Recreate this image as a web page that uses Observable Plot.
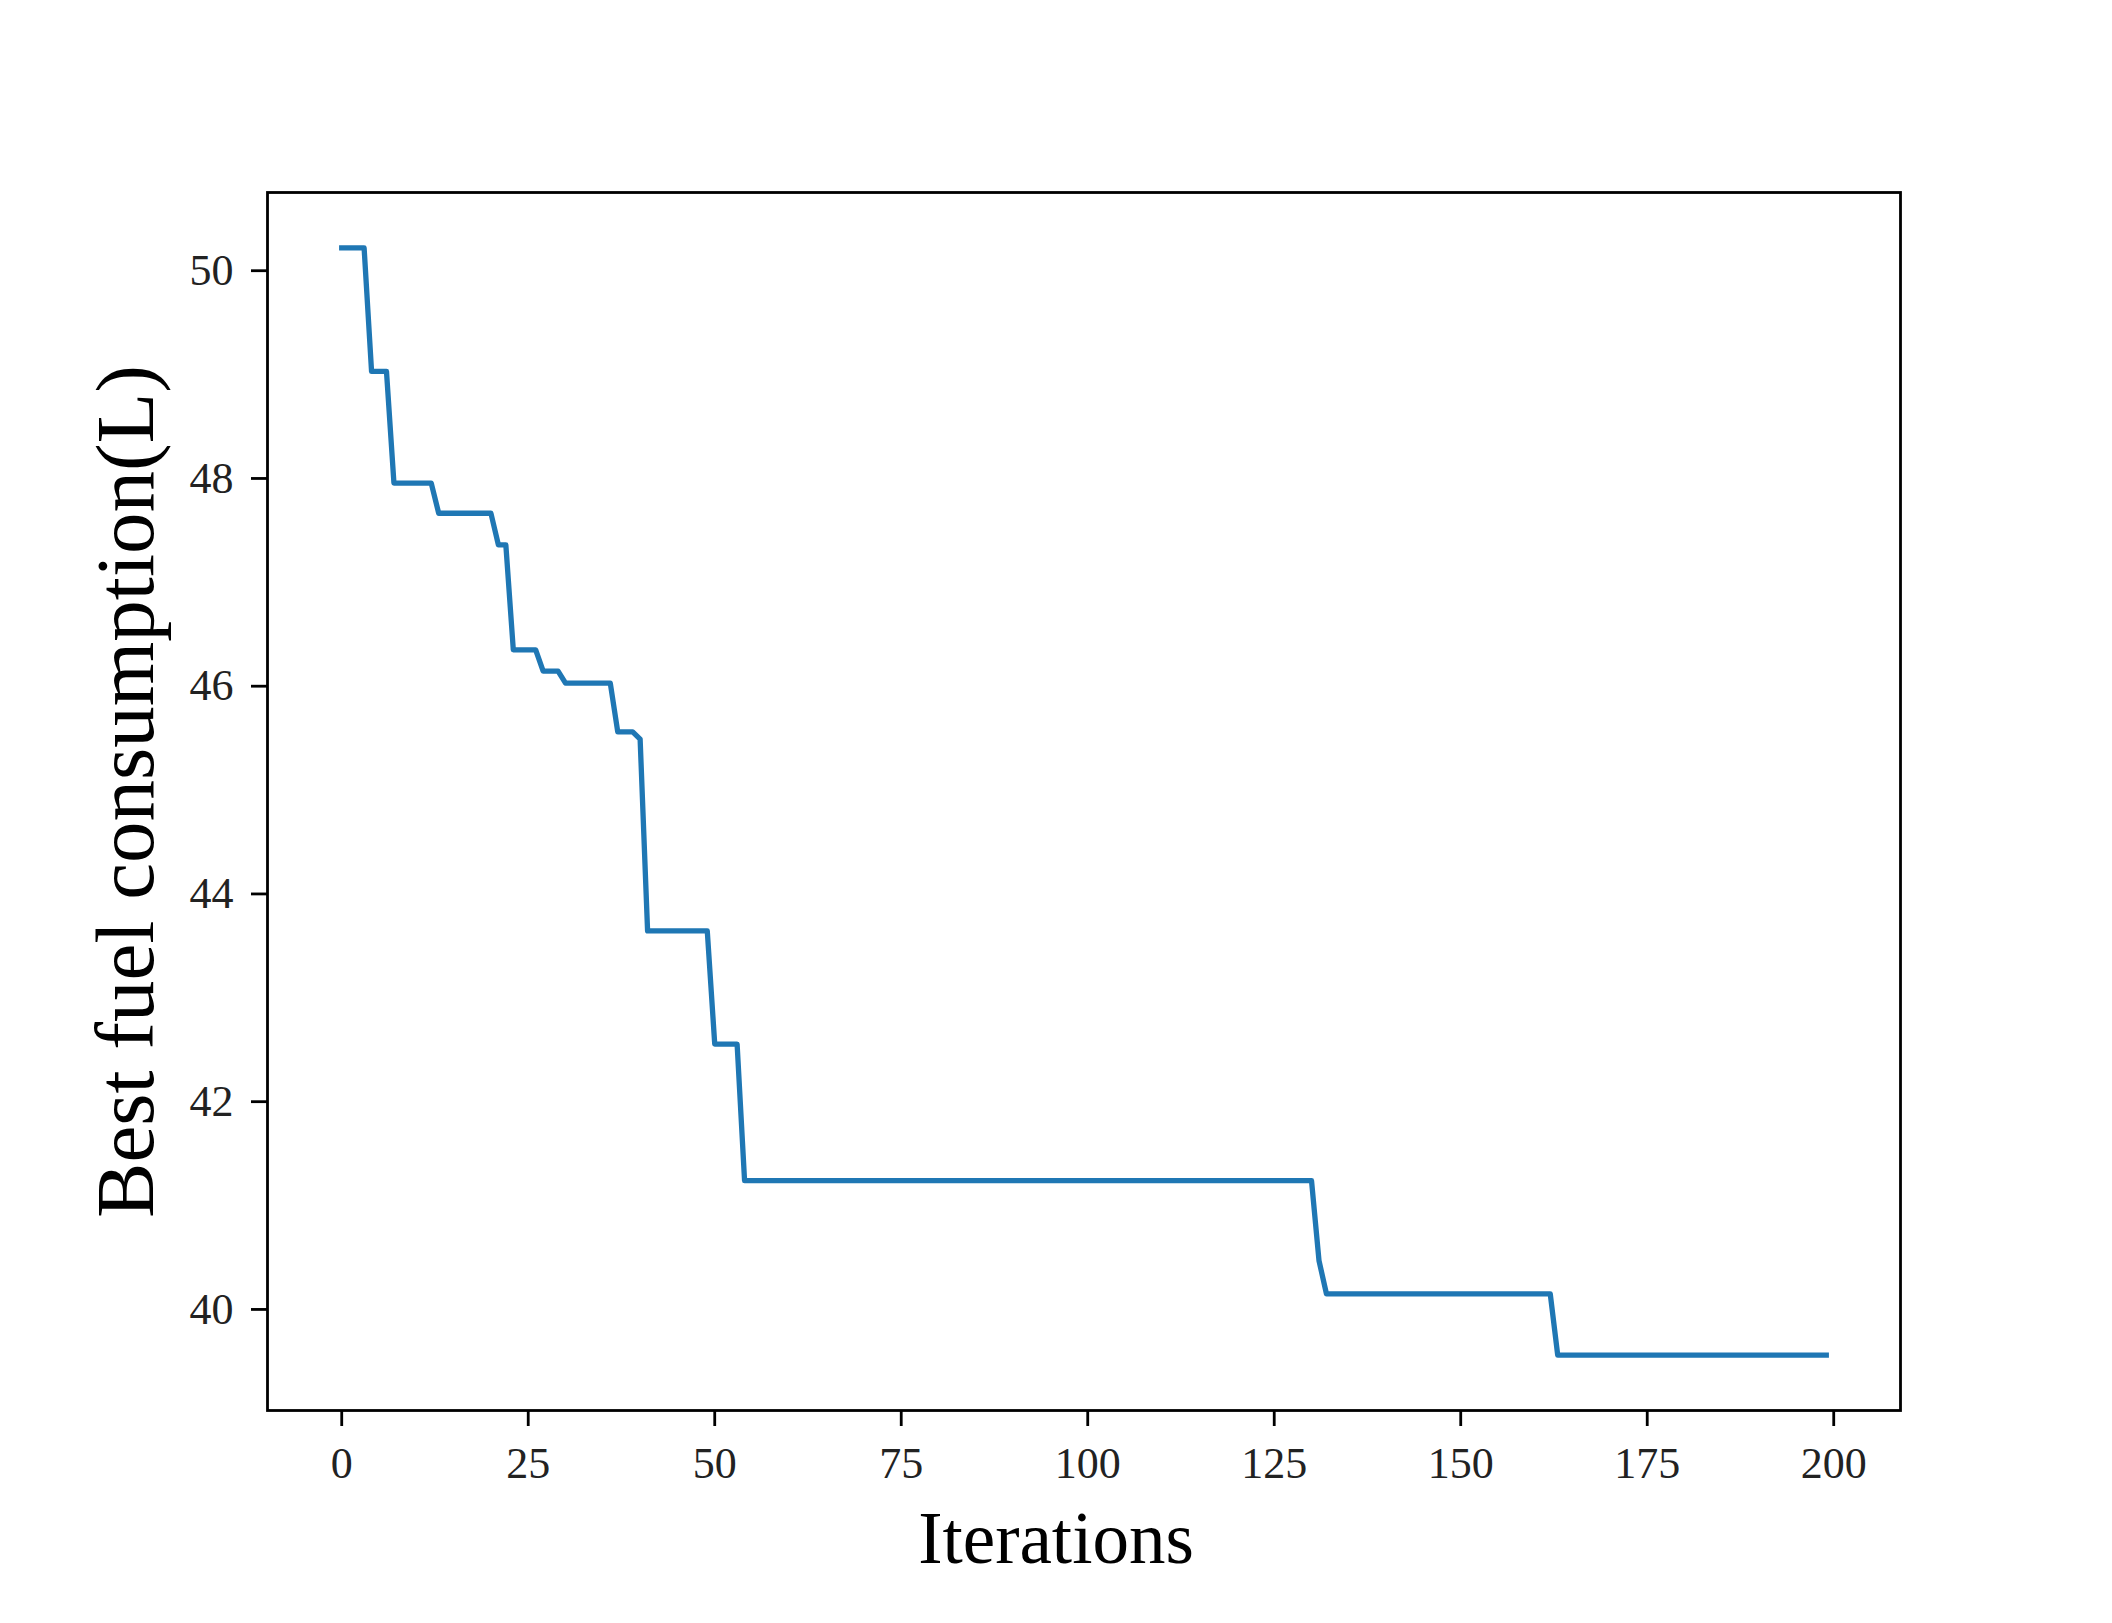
<!DOCTYPE html>
<html>
<head>
<meta charset="utf-8">
<script src="https://cdn.jsdelivr.net/npm/d3@7"></script>
<script src="https://cdn.jsdelivr.net/npm/@observablehq/plot@0.6"></script>
<style>
  html, body { margin: 0; padding: 0; background: #ffffff; }
  #chart svg { display: block; }
</style>
</head>
<body>
<div id="chart"></div>
<script>
// Breakpoints of the best-so-far curve (iteration, fuel in L)
const iterX = [0, 3, 4, 6, 7, 12, 13, 20, 21, 22, 23, 26, 27, 29, 30, 36, 37, 39, 40, 41, 49, 50, 53, 54, 130, 131, 132, 162, 163, 199];
const fuelY = [50.22, 50.22, 49.03, 49.03, 47.955, 47.955, 47.665, 47.665, 47.36, 47.36, 46.35, 46.35, 46.145, 46.145, 46.03, 46.03, 45.56, 45.56, 45.49, 43.645, 43.645, 42.555, 42.555, 41.24, 41.24, 40.47, 40.15, 40.15, 39.56, 39.56];

const xTicks = [0, 25, 50, 75, 100, 125, 150, 175, 200];
const yTicks = [40, 42, 44, 46, 48, 50];
const xLabel = "Iterations";
const yLabel = "Best fuel consumption(L)";

const data = iterX.map((x, i) => ({x, y: fuelY[i]}));

const serif = "'Liberation Serif', 'Times New Roman', serif";

const chart = Plot.plot({
  width: 2112,
  height: 1623,
  marginLeft: 267,
  marginRight: 212,
  marginTop: 192,
  marginBottom: 213,
  style: {background: "#ffffff", color: "#000000", fontFamily: serif},
  x: {domain: [-9.95, 208.95]},
  y: {domain: [39.027, 50.753]},
  marks: [
    Plot.line(data, {x: "x", y: "y", stroke: "#1f77b4", strokeWidth: 5.3, strokeLinejoin: "round", strokeLinecap: "square"}),
    Plot.frame({stroke: "#000000", strokeWidth: 2.8}),
    Plot.axisX({ticks: xTicks, tickSize: 16, tickPadding: 20, strokeWidth: 2.8, fontSize: 44, fontFamily: serif, label: null, tickFormat: d => String(d), fill: "#222"}),
    Plot.axisY({ticks: yTicks, tickSize: 16, tickPadding: 18, strokeWidth: 2.8, fontSize: 44, fontFamily: serif, label: null, tickFormat: d => String(d), fill: "#222"}),
    Plot.text([xLabel], {frameAnchor: "bottom", dy: 152, dx: -28, lineAnchor: "bottom", textAnchor: "middle", fontSize: 73, fontFamily: serif, fill: "#000"}),
    Plot.text([yLabel], {frameAnchor: "left", dx: -115, dy: -10, rotate: -90, lineAnchor: "bottom", textAnchor: "middle", fontSize: 83, fontFamily: serif, fill: "#000"})
  ]
});

document.getElementById("chart").appendChild(chart);
</script>
</body>
</html>
